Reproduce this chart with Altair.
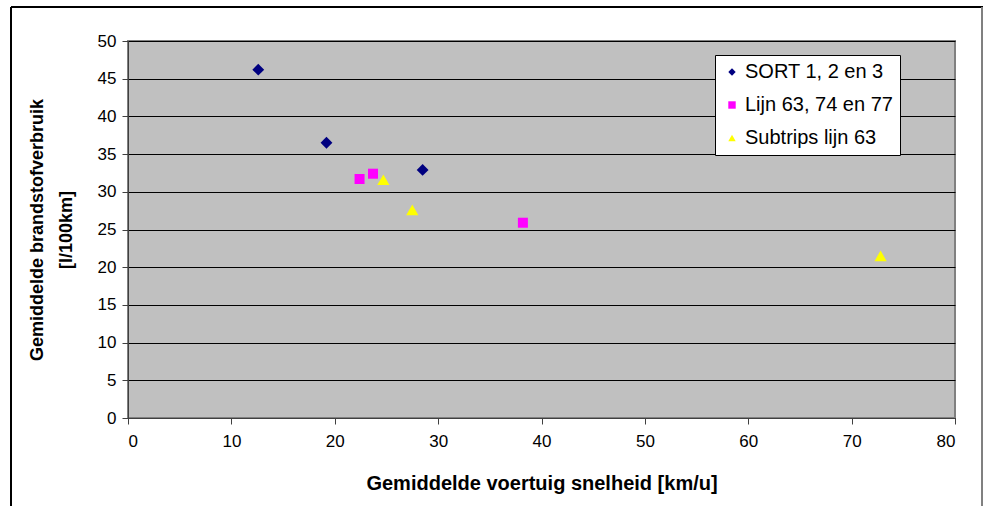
import altair as alt
import pandas as pd

series_names = ["SORT 1, 2 en 3", "Lijn 63, 74 en 77", "Subtrips lijn 63"]
sort_x = [12.6, 19.2, 28.5]
sort_y = [46.2, 36.5, 32.9]
lijn_x = [22.4, 23.7, 38.2]
lijn_y = [31.7, 32.4, 25.9]
sub_x = [24.7, 27.5, 72.8]
sub_y = [31.6, 27.6, 21.5]

rows = []
for name, xs, ys in zip(series_names, [sort_x, lijn_x, sub_x], [sort_y, lijn_y, sub_y]):
    for xv, yv in zip(xs, ys):
        rows.append({"serie": name, "x": xv, "y": yv})
df = pd.DataFrame(rows)

FONT = "Liberation Sans"
marker_sizes = [140, 100, 150]

x_enc = alt.X("x:Q", scale=alt.Scale(domain=[0, 80], nice=False),
              axis=alt.Axis(values=list(range(0, 81, 10)), title="Gemiddelde voertuig snelheid [km/u]",
                            titleFontSize=20,
                            grid=False, tickSize=6, labelPadding=9, titlePadding=24))
y_enc = alt.Y("y:Q", scale=alt.Scale(domain=[0, 50], nice=False),
              axis=alt.Axis(values=list(range(0, 51, 5)),
                            title=["Gemiddelde brandstofverbruik", "[l/100km]"],
                            titleFontSize=18, titleLineHeight=29,
                            grid=True, gridColor="#000000", gridWidth=1, gridOpacity=1,
                            tickSize=6, labelPadding=6, titlePadding=22))
color_enc = alt.Color("serie:N", scale=alt.Scale(domain=series_names, range=["#000080", "#FF00FF", "#FFFF00"]),
                      legend=alt.Legend(title=None, orient="none", legendX=587, legendY=14,
                                        fillColor="#FFFFFF", strokeColor="#000000", padding=7,
                                        labelFont=FONT, labelFontSize=20, labelColor="#000000",
                                        symbolSize=55, rowPadding=13, labelOffset=3,
                                        symbolStrokeWidth=0))
shape_enc = alt.Shape("serie:N", scale=alt.Scale(domain=series_names, range=["diamond", "square", "triangle-up"]))

layers = []
for name, sz in zip(series_names, marker_sizes):
    layers.append(
        alt.Chart(df).transform_filter(alt.datum.serie == name)
        .mark_point(filled=True, opacity=1, size=sz)
        .encode(x=x_enc, y=y_enc, color=color_enc, shape=shape_enc)
    )

frame_top = alt.Chart(df).mark_rule(color="#000000", strokeWidth=1.5).encode(
    x=alt.value(-117), x2=alt.value(855), y=alt.value(-34))
frame_left = alt.Chart(df).mark_rule(color="#000000", strokeWidth=1.5).encode(
    x=alt.value(-117), y=alt.value(-34), y2=alt.value(470))
frame_right = alt.Chart(df).mark_rule(color="#808080", strokeWidth=1).encode(
    x=alt.value(854), y=alt.value(-34), y2=alt.value(470))

chart = alt.layer(*layers, frame_top, frame_left, frame_right).properties(
    width=827, height=377,
    autosize=alt.AutoSizeParams(type="none"),
    padding={"left": 128, "top": 41, "right": 28, "bottom": 88},
    background="#FFFFFF",
).configure_view(
    fill="#C0C0C0", stroke="#808080", strokeWidth=2
).configure_axis(
    labelFont=FONT, labelFontSize=17, labelColor="#000000",
    titleFont=FONT, titleFontWeight="bold", titleColor="#000000",
    domainColor="#404040", tickColor="#404040", domainWidth=1, tickWidth=1,
)

chart.save("out.html", embed_options={"renderer": "svg", "actions": False})
